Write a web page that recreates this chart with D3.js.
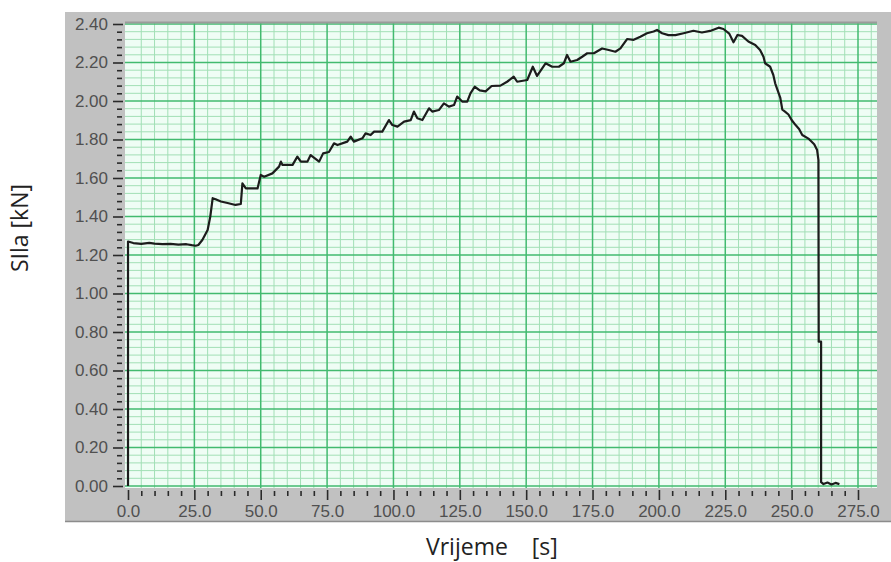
<!DOCTYPE html>
<html>
<head>
<meta charset="utf-8">
<script src="https://cdn.jsdelivr.net/npm/d3@7"></script>
<style>
  html, body { margin: 0; padding: 0; background: #ffffff; }
  svg { display: block; }
</style>
</head>
<body>
<svg id="chart" width="891" height="562"></svg>
<script>
// ---- data ----
const timeS = [0, 0, 2, 5, 8, 10, 13, 16, 19, 22, 24, 25.5, 26.5, 28, 30, 31, 31.9, 33, 35, 37.5, 40.5, 42.5,
  43.1, 44.4, 48.8, 50.0, 51.3, 54.4, 56.9, 57.6, 58.2, 62.0, 63.8, 65.1, 67.6, 68.8, 72.0, 73.5, 75.7,
  77.6, 78.9, 82.6, 83.9, 85.1, 88.3, 89.5, 91.4, 92.7, 95.8, 98.3, 99.6, 101.5, 104.0, 106.5, 107.7,
  109.0, 110.9, 113.4, 114.6, 117.1, 119.0, 120.9, 122.8, 124.0, 125.9, 127.8, 129.0, 130.6, 132.5,
  134.7, 137.0, 140.3, 142.8, 145.3, 146.6, 150.4, 152.5, 154.1, 157.3, 159.8, 162.3, 164.2, 165.4,
  166.7, 169.2, 171.1, 173.0, 175.5, 178.6, 181.1, 183.6, 185.5, 188.0, 190.5, 193.0, 195.5, 198.0,
  199.3, 201.2, 203.6, 206.2, 209.3, 213.0, 216.2, 219.3, 222.5, 224.3, 226.5, 228.1, 229.6, 231.3,
  233.7, 236.3, 238.1, 239.4, 240.0, 241.9, 243.1, 243.8, 244.6, 245.7, 246.5, 247.5, 248.8, 250.0,
  251.5, 252.8, 254.0, 256.5, 258.5, 259.6, 260.1, 260.2, 261.1, 261.1, 262.0, 263.5, 265.0, 266.5, 268.0];
const forceKN = [0, 1.27, 1.262, 1.258, 1.263, 1.259, 1.256, 1.258, 1.254, 1.256, 1.251, 1.248, 1.252, 1.278, 1.33, 1.40, 1.495, 1.49, 1.478, 1.47, 1.46, 1.465,
  1.572, 1.546, 1.546, 1.616, 1.607, 1.624, 1.659, 1.685, 1.668, 1.668, 1.711, 1.685, 1.685, 1.719, 1.685, 1.728, 1.735,
  1.780, 1.771, 1.789, 1.815, 1.789, 1.806, 1.832, 1.823, 1.841, 1.841, 1.901, 1.875, 1.867, 1.893, 1.901, 1.945,
  1.910, 1.901, 1.962, 1.945, 1.953, 1.988, 1.971, 1.979, 2.023, 1.997, 1.997, 2.040, 2.074, 2.055,
  2.050, 2.078, 2.080, 2.100, 2.126, 2.100, 2.109, 2.178, 2.130, 2.196, 2.178, 2.178, 2.196, 2.239,
  2.204, 2.213, 2.230, 2.248, 2.248, 2.273, 2.265, 2.256, 2.273, 2.322, 2.318, 2.334, 2.352, 2.361,
  2.369, 2.352, 2.342, 2.342, 2.352, 2.365, 2.356, 2.364, 2.381, 2.374, 2.350, 2.305, 2.343, 2.338,
  2.309, 2.291, 2.265, 2.230, 2.196, 2.178, 2.135, 2.092, 2.060, 2.018, 1.955, 1.945, 1.930, 1.901,
  1.875, 1.855, 1.823, 1.803, 1.775, 1.745, 1.693, 0.75, 0.75, 0.02, 0.01, 0.018, 0.008, 0.016, 0.01];

const xTickValues = [0, 25, 50, 75, 100, 125, 150, 175, 200, 225, 250, 275];
const xTickLabels = ["0.0", "25.0", "50.0", "75.0", "100.0", "125.0", "150.0", "175.0", "200.0", "225.0", "250.0", "275.0"];
const yTickValues = [0, 0.2, 0.4, 0.6, 0.8, 1.0, 1.2, 1.4, 1.6, 1.8, 2.0, 2.2, 2.4];
const yTickLabels = ["0.00", "0.20", "0.40", "0.60", "0.80", "1.00", "1.20", "1.40", "1.60", "1.80", "2.00", "2.20", "2.40"];
const xMinorStep = 5;
const yMinorStep = 0.04;
const xTitle = "Vrijeme    [s]";
const yTitle = "SIla [kN]";

// ---- layout ----
const svg = d3.select("#chart");
const x = d3.scaleLinear().domain([0, 275]).range([128, 858]);
const y = d3.scaleLinear().domain([0, 2.4]).range([486, 24]);
const plotL = 125, plotR = 877, plotT = 23, plotB = 488;

// grey panel
svg.append("rect").attr("x", 65).attr("y", 12).attr("width", 826).attr("height", 510).attr("fill", "#c1c1c1");
svg.append("line").attr("x1", 65).attr("x2", 891).attr("y1", 521.5).attr("y2", 521.5).attr("stroke", "#8c8c8c").attr("stroke-width", 1.5);

// plot background
svg.append("rect").attr("x", plotL).attr("y", plotT).attr("width", plotR - plotL).attr("height", plotB - plotT).attr("fill", "#effdf5");

const grid = svg.append("g");
const xMinor = d3.range(0, 281, xMinorStep).filter(v => v % 25 !== 0);
const yMinor = d3.range(0, 2.401, yMinorStep).filter(v => Math.abs(v / 0.2 - Math.round(v / 0.2)) > 1e-6);

grid.selectAll(".vminor").data(xMinor).join("line")
  .attr("x1", d => x(d)).attr("x2", d => x(d)).attr("y1", plotT).attr("y2", plotB)
  .attr("stroke", "#a2dfb6").attr("stroke-width", 1);
grid.selectAll(".hminor").data(yMinor).join("line")
  .attr("y1", d => y(d)).attr("y2", d => y(d)).attr("x1", plotL).attr("x2", plotR)
  .attr("stroke", "#a2dfb6").attr("stroke-width", 1);
grid.selectAll(".vmajor").data(xTickValues.filter(v => v > 0)).join("line")
  .attr("x1", d => x(d)).attr("x2", d => x(d)).attr("y1", plotT).attr("y2", plotB)
  .attr("stroke", "#42ba6f").attr("stroke-width", 1.5);
grid.selectAll(".hmajor").data(yTickValues).join("line")
  .attr("y1", d => y(d)).attr("y2", d => y(d)).attr("x1", plotL).attr("x2", plotR)
  .attr("stroke", "#42ba6f").attr("stroke-width", 1.5);

// top border of plot
svg.append("line").attr("x1", plotL).attr("x2", plotR).attr("y1", 22.5).attr("y2", 22.5).attr("stroke", "#9b9b9b").attr("stroke-width", 2);

// axes
const font = "'Liberation Sans', Arial, sans-serif";
const xAxisMajor = d3.axisBottom(x).tickValues(xTickValues).tickFormat((d, i) => xTickLabels[i]).tickSize(10).tickPadding(5);
const xAxisMinor = d3.axisBottom(x).tickValues(d3.range(0, 276, xMinorStep).filter(v => v % 25 !== 0)).tickFormat("").tickSize(5);
const gxm = svg.append("g").attr("transform", "translate(0,491)").call(xAxisMinor);
const gx = svg.append("g").attr("transform", "translate(0,490)").call(xAxisMajor);

const yAxisMajor = d3.axisLeft(y).tickValues(yTickValues).tickFormat((d, i) => yTickLabels[i]).tickSize(10).tickPadding(5);
const yAxisMinor = d3.axisLeft(y).tickValues(yMinor).tickFormat("").tickSize(5);
const gym = svg.append("g").attr("transform", "translate(122,0)").call(yAxisMinor);
const gy = svg.append("g").attr("transform", "translate(123,0)").call(yAxisMajor);

[gx, gxm, gy, gym].forEach(g => {
  g.select(".domain").remove();
  g.selectAll(".tick line").attr("stroke", "#2a2a2a").attr("stroke-width", 1.6);
  g.selectAll("text").attr("fill", "#505050").style("font-family", font).style("font-size", "17px");
});

// data line
const pts = timeS.map((t, i) => [t, forceKN[i]]);
svg.append("path").datum(pts)
  .attr("fill", "none").attr("stroke", "#1c1c1c").attr("stroke-width", 2.2).attr("stroke-linejoin", "round")
  .attr("d", d3.line().x(d => x(d[0])).y(d => y(d[1])));

// titles
const tfont = "'Open Sans', 'Noto Sans', sans-serif";
svg.append("text").attr("x", 426).attr("y", 555).attr("fill", "#222")
  .style("font-family", tfont).style("font-size", "23px").style("white-space", "pre").text(xTitle);
svg.append("text").attr("transform", "translate(28,228) rotate(-90)").attr("text-anchor", "middle").attr("fill", "#222")
  .style("font-family", tfont).style("font-size", "23px").text(yTitle);
</script>
</body>
</html>
